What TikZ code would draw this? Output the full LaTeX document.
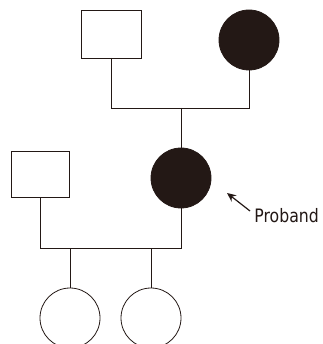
\documentclass[tikz,border=0pt]{standalone}
\usepackage{fontspec}
\setmainfont{DejaVu Sans}[FakeStretch=0.85]
\usepackage{tikz}
\usetikzlibrary{arrows.meta}
\definecolor{ink}{HTML}{231815}

\begin{document}
\begin{tikzpicture}[x=1pt, y=-1pt, line width=0.8pt, draw=ink,
        male/.style={draw, rectangle, inner sep=0pt, outer sep=0pt},
        female/.style={draw, circle, inner sep=0pt, outer sep=0pt, minimum size=60pt},
        affected/.style={fill=ink}]
        \useasboundingbox (0, 0) rectangle (322, 344);
        % grandparents
        \node[male, minimum width=60pt, minimum height=48pt] (gf) at (111, 34) {};
        \node[female, affected] (gm) at (249, 40) {};
        \coordinate (gl) at (111, 108);
        \coordinate (gr) at (249, 108);
        \coordinate (gc) at (181, 108);
        \draw (gf.south) -- (gl) -- (gr) -- (gm.south);
        % proband and husband
        \node[female, affected] (pro) at (181, 178) {};
        \draw (gc) -- (pro.north);
        \node[male, minimum width=58pt, minimum height=46pt] (hu) at (40, 174) {};
        \coordinate (hl) at (40, 248);
        \coordinate (hr) at (181, 248);
        \draw (hu.south) -- (hl) -- (hr) -- (pro.south);
        % children
        \node[female] (ca) at (70, 318) {};
        \node[female] (cb) at (151, 318) {};
        \draw (ca.north |- hl) -- (ca.north);
        \draw (cb.north |- hl) -- (cb.north);
        % label
        \node[anchor=base west, inner sep=0pt, font=\fontsize{18.5}{22}\selectfont, text=ink] (lab) at (254, 222) {Proband};
        \coordinate (tail) at (250, 211);
        \coordinate (tip) at (227, 193);
        \draw[line width=1.2pt, -{Stealth[length=9pt, width=8pt]}] (tail) -- (tip);
\end{tikzpicture}
\end{document}
